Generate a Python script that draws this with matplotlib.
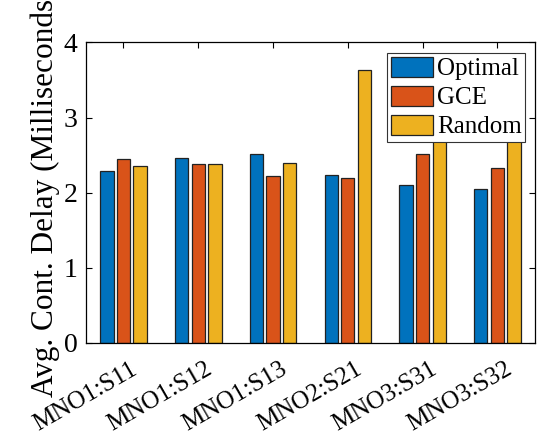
import numpy as np
import matplotlib
matplotlib.use("Agg")
import matplotlib.pyplot as plt
from matplotlib.transforms import ScaledTranslation

categories = ["MNO1:S11", "MNO1:S12", "MNO1:S13", "MNO2:S21", "MNO3:S31", "MNO3:S32"]
optimal = [2.29, 2.46, 2.52, 2.23, 2.10, 2.05]
gce = [2.45, 2.38, 2.22, 2.20, 2.51, 2.33]
# last two tops are hidden behind the legend in the reference: estimated
random_ = [2.36, 2.38, 2.39, 3.63, 3.20, 3.10]

plt.rcParams["font.family"] = ["Liberation Serif", "DejaVu Serif"]
plt.rcParams["font.size"] = 20

fig = plt.figure(figsize=(5.38, 4.38), dpi=100)
ax = fig.add_axes([0.160, 0.217, 0.834, 0.686])

x = np.arange(1, len(categories) + 1)
w = 0.178
off = 0.222
series = [("Optimal", optimal, "#0072BD"),
          ("GCE", gce, "#D95319"),
          ("Random", random_, "#EDB120")]
for i, (name, vals, col) in enumerate(series):
    ax.bar(x + (i - 1) * off, vals, width=w, color=col, edgecolor="#222222",
           linewidth=0.9, label=name, zorder=2)

ax.set_xlim(0.5, 6.5)
ax.set_ylim(0, 4)
ax.set_yticks([0, 1, 2, 3, 4])
ax.set_xticks(x)
ax.set_xticklabels(categories, rotation=30, ha="right", rotation_mode="anchor",
                   fontsize=18)
ax.tick_params(direction="in", top=True, right=True, length=4, width=0.8)
ax.tick_params(axis="y", pad=6)
ax.tick_params(axis="x", pad=11)
shift = ScaledTranslation(7 / 100, 0, fig.dpi_scale_trans)
for lab in ax.get_xticklabels():
    lab.set_transform(lab.get_transform() + shift)
for s in ax.spines.values():
    s.set_linewidth(0.9)
ax.set_ylabel("Avg. Cont. Delay (Milliseconds)", fontsize=22.5, labelpad=3)

leg = ax.legend(loc="upper right", bbox_to_anchor=(0.979, 0.965), fancybox=False,
                framealpha=1, edgecolor="#333333", fontsize=18,
                handlelength=1.68, handleheight=0.84, handletextpad=0.15,
                borderpad=0.15, labelspacing=0.22, borderaxespad=0)
leg.get_frame().set_linewidth(0.8)

fig.savefig("out.png", dpi=100)
